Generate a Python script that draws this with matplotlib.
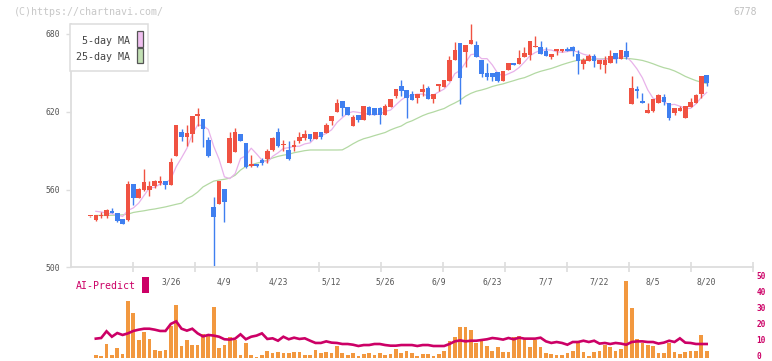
import numpy as np
import matplotlib
matplotlib.use("Agg")
import matplotlib.pyplot as plt
from matplotlib.patches import Rectangle
from matplotlib.transforms import blended_transform_factory, ScaledTranslation

# ---------------- data (bar index -1 .. 114) ----------------
opens = [539.3,
 536.5, 539.6, 539.8, 543.4, 541.9, 537.5, 536.5, 564.0, 553.7, 559.9,
 559.6, 563.0, 565.3, 566.6, 563.5, 586.1, 604.4, 600.8, 603.1, 617.0,
 614.4, 598.2, 546.5, 549.1, 560.4, 580.7, 588.9, 602.8, 595.9, 578.1,
 579.7, 583.0, 583.6, 590.5, 604.6, 594.3, 590.5, 592.8, 597.4, 600.0,
 602.6, 599.0, 604.4, 603.6, 612.9, 619.8, 628.0, 623.7, 609.3, 617.5,
 613.6, 623.7, 623.2, 623.2, 617.8, 623.9, 632.2, 639.9, 636.8, 633.7,
 630.6, 635.2, 638.3, 630.1, 639.9, 639.1, 643.7, 659.9, 673.1, 666.1,
 672.3, 671.5, 660.0, 649.9, 649.9, 650.6, 643.7, 652.2, 657.6, 656.8,
 662.3, 663.8, 670.0, 670.0, 666.9, 662.3, 667.1, 667.1, 668.4, 670.0,
 664.6, 657.1, 659.4, 663.0, 657.1, 656.3, 657.9, 665.3, 661.0, 666.9,
 626.0, 637.6, 628.3, 619.0, 620.6, 626.8, 631.4, 626.8, 619.0, 620.6,
 615.2, 623.7, 626.8, 633.7, 648.4]
highs = [539.6,
 540.3, 542.4, 544.7, 545.7, 541.9, 537.5, 566.6, 564.0, 561.0, 575.8,
 566.6, 567.6, 570.4, 566.6, 584.3, 610.0, 607.0, 609.8, 616.7, 622.9,
 614.4, 600.5, 554.2, 566.6, 560.4, 604.4, 607.7, 602.8, 595.9, 586.6,
 579.7, 584.6, 591.0, 600.5, 607.5, 598.2, 597.4, 598.2, 604.4, 605.9,
 602.6, 604.4, 604.4, 611.6, 616.7, 629.8, 628.0, 623.7, 617.5, 617.5,
 624.4, 624.4, 623.2, 623.9, 626.0, 629.8, 637.6, 644.5, 636.8, 636.0,
 633.7, 641.2, 640.0, 633.7, 641.4, 644.5, 663.0, 673.8, 673.1, 671.5,
 687.7, 674.6, 660.0, 657.6, 649.9, 650.6, 651.4, 657.6, 657.6, 667.6,
 670.0, 674.6, 678.5, 674.6, 670.0, 664.6, 668.4, 668.4, 670.0, 670.8,
 667.6, 661.5, 664.6, 664.6, 660.2, 663.0, 667.9, 665.3, 667.6, 673.8,
 647.6, 639.9, 634.5, 626.8, 629.8, 633.7, 633.7, 626.8, 622.9, 624.4,
 624.4, 630.6, 633.7, 647.6, 648.4]
lows = [539.0,
 536.0, 538.3, 538.3, 541.6, 535.2, 533.6, 536.0, 548.1, 553.7, 558.9,
 555.3, 561.0, 563.5, 560.7, 563.5, 586.1, 597.7, 593.6, 596.4, 609.0,
 593.1, 585.1, 501.2, 549.1, 535.2, 580.7, 588.9, 597.7, 576.3, 577.1,
 577.1, 579.2, 580.7, 590.0, 592.6, 590.0, 582.8, 590.0, 595.6, 598.2,
 597.7, 599.0, 599.2, 603.6, 609.8, 619.8, 617.0, 617.8, 609.3, 612.1,
 613.6, 617.8, 617.5, 610.6, 617.8, 623.9, 630.4, 632.2, 615.4, 629.3,
 627.0, 632.4, 630.1, 626.8, 636.0, 639.1, 643.7, 659.9, 626.0, 654.5,
 672.3, 662.3, 646.8, 644.2, 643.7, 643.0, 643.7, 652.2, 656.1, 656.8,
 662.3, 660.0, 670.0, 664.6, 663.3, 661.0, 664.0, 666.0, 667.1, 663.3,
 649.4, 653.2, 659.4, 654.8, 653.2, 650.2, 657.9, 657.9, 661.0, 661.0,
 626.0, 630.6, 626.8, 619.0, 619.8, 626.8, 625.2, 613.6, 617.5, 620.6,
 615.2, 623.7, 626.8, 630.6, 640.0]
closes = [539.5,
 540.1, 540.6, 543.9, 541.9, 536.0, 533.6, 564.0, 553.7, 560.4, 565.5,
 562.5, 566.3, 566.8, 563.7, 581.2, 609.8, 600.8, 603.6, 616.7, 618.3,
 607.0, 585.9, 539.1, 566.6, 550.6, 600.0, 604.6, 597.7, 577.6, 579.7,
 578.1, 580.5, 589.7, 599.8, 593.6, 594.8, 583.8, 594.3, 600.3, 602.8,
 599.0, 604.4, 600.5, 609.8, 616.7, 627.0, 623.2, 617.8, 615.7, 613.6,
 624.4, 617.8, 617.5, 617.2, 624.4, 629.8, 637.6, 636.3, 630.9, 629.3,
 633.7, 637.6, 630.1, 633.7, 641.4, 644.5, 659.9, 667.6, 646.0, 671.5,
 675.4, 662.3, 649.1, 646.8, 646.8, 643.7, 651.4, 657.6, 656.1, 661.5,
 665.6, 674.6, 670.8, 664.6, 663.3, 664.6, 668.4, 668.4, 667.1, 667.1,
 659.4, 659.9, 663.0, 659.4, 660.2, 659.9, 663.0, 660.7, 667.6, 662.3,
 638.3, 636.0, 626.8, 621.3, 629.8, 632.9, 627.5, 615.2, 622.9, 622.9,
 624.4, 627.5, 632.9, 647.6, 642.2]

nan = float("nan")
ma5 = [nan,
 543.2, 542.7, 541.8, 541.2, 540.5, 539.2, 543.9, 545.8, 549.5, 555.4,
 561.2, 561.7, 564.3, 565.0, 568.1, 577.6, 584.5, 591.8, 602.4, 609.8,
 609.3, 606.3, 593.4, 583.4, 569.8, 568.4, 572.2, 583.9, 586.1, 591.9,
 587.5, 582.7, 581.1, 585.6, 588.3, 591.7, 592.3, 593.3, 593.4, 595.2,
 596.0, 600.2, 601.4, 603.3, 606.1, 611.7, 615.4, 618.9, 620.1, 619.5,
 618.9, 617.9, 617.8, 618.1, 620.3, 621.3, 625.3, 629.1, 631.8, 632.8,
 633.6, 633.6, 632.3, 632.9, 635.3, 637.5, 641.9, 649.4, 651.9, 657.9,
 664.1, 664.6, 660.9, 661.0, 656.1, 649.7, 647.6, 649.3, 651.1, 654.1,
 658.4, 663.1, 665.7, 667.4, 667.8, 667.6, 666.3, 665.9, 666.4, 667.1,
 666.1, 664.4, 663.3, 661.8, 660.4, 660.5, 661.1, 660.6, 662.3, 662.7,
 658.4, 653.0, 646.2, 636.9, 630.4, 629.4, 627.7, 625.3, 625.7, 624.3,
 622.6, 622.6, 626.1, 631.1, 634.9]
ma25 = [nan,
 540.0, 540.0, 540.0, 540.1, 540.2, 540.5, 541.0, 542.3, 543.0, 543.6,
 544.4, 545.0, 545.8, 546.6, 547.6, 548.6, 549.5, 553.0, 555.0, 558.0,
 562.0, 564.3, 566.5, 567.3, 567.9, 568.8, 571.0, 575.0, 577.8, 579.0,
 580.3, 581.3, 582.8, 584.3, 585.6, 586.5, 587.2, 588.4, 589.2, 590.0,
 590.5, 590.5, 590.5, 590.5, 590.5, 590.5, 590.6, 592.8, 595.3, 597.5,
 599.2, 600.3, 601.6, 602.8, 604.0, 606.0, 607.6, 609.0, 611.5, 613.0,
 615.0, 617.0, 618.6, 619.8, 621.2, 622.5, 624.8, 626.8, 629.0, 632.0,
 634.2, 635.8, 636.8, 638.0, 639.5, 640.6, 641.5, 642.8, 644.0, 645.3,
 646.3, 648.0, 649.8, 651.2, 652.3, 653.4, 654.8, 656.3, 657.6, 658.8,
 659.8, 660.2, 660.4, 660.6, 660.7, 660.9, 661.0, 661.2, 661.3, 661.2,
 660.8, 660.3, 659.6, 658.4, 657.0, 655.4, 654.0, 653.0, 651.5, 649.5,
 647.3, 645.6, 644.0, 642.8, 641.8]

volume = [nan,
 2.1, 1.5, 9.0, 2.1, 6.5, 2.7, 35.8, 28.3, 11.5, 16.5,
 12.1, 5.2, 4.6, 5.2, 19.8, 33.3, 7.7, 11.5, 8.3, 8.3,
 15.2, 14.6, 32.1, 6.5, 8.3, 13.3, 11.5, 2.1, 9.6, 2.1,
 0.8, 2.1, 4.6, 3.3, 4.0, 3.3, 3.3, 4.0, 4.0, 2.1,
 2.1, 5.2, 3.3, 4.0, 3.3, 7.7, 3.3, 2.1, 3.3, 1.5,
 2.7, 3.3, 2.1, 3.3, 2.1, 2.7, 5.8, 3.3, 4.6, 3.3,
 1.5, 2.7, 2.7, 1.5, 2.7, 4.6, 10.8, 13.3, 19.6, 19.6,
 17.7, 9.6, 12.1, 7.7, 4.6, 7.1, 4.0, 4.0, 13.3, 14.0,
 12.1, 7.1, 11.5, 7.1, 3.3, 2.7, 2.1, 2.1, 3.3, 4.6,
 9.6, 4.0, 1.5, 4.0, 4.6, 8.3, 7.1, 4.6, 5.8, 48.1,
 31.0, 12.1, 9.6, 8.3, 7.7, 3.3, 3.3, 9.6, 4.0, 2.7,
 4.0, 4.6, 4.6, 14.6, 4.6]
ai_predict = [nan,
 12.1, 12.5, 16.7, 13.3, 15.6, 14.4, 15.4, 16.9, 17.7, 18.3,
 18.3, 17.7, 16.9, 16.9, 21.3, 22.9, 18.3, 17.1, 18.3, 15.4,
 13.5, 14.4, 14.0, 13.3, 11.7, 11.5, 12.1, 14.8, 11.7, 13.3,
 14.0, 15.4, 11.9, 12.3, 10.8, 13.3, 11.7, 12.7, 11.9, 12.3,
 10.8, 9.4, 9.4, 10.4, 9.6, 9.4, 8.75, 8.75, 8.3, 7.5,
 8.1, 8.1, 8.75, 8.75, 8.1, 7.7, 7.7, 8.1, 8.1, 8.1,
 7.5, 8.1, 8.1, 7.5, 7.5, 7.5, 8.75, 10.4, 11.0, 10.4,
 10.8, 10.8, 11.25, 11.7, 12.5, 12.1, 11.5, 12.5, 11.7, 12.7,
 12.1, 12.1, 12.1, 12.7, 10.4, 9.4, 10.0, 9.4, 8.3, 10.0,
 10.0, 10.8, 10.0, 10.8, 9.0, 9.4, 8.75, 9.4, 9.0, 8.3,
 10.0, 10.4, 10.4, 10.0, 10.0, 9.0, 9.6, 10.8, 10.0, 12.3,
 9.6, 9.4, 8.75, 8.75, 8.75]

date_labels = ["3/26", "4/9", "4/23", "5/12", "5/26", "6/9",
               "6/23", "7/7", "7/22", "8/5", "8/20"]
date_label_bar = [14, 24, 34, 44, 54, 64, 74, 84, 94, 104, 114]
price_ticks = [500, 560, 620, 680]
vol_ticks = [0, 10, 20, 30, 40, 50]

# ---------------- styling ----------------
W, H = 772, 361
RED = "#f05242"
BLUE = "#3f7ff0"
PINK = "#e8b2ea"
GREEN = "#b3d9a3"
ORANGE = "#f2983f"
MAGENTA = "#cc0066"
GRID = "#dddddd"
TXT = "#555555"
MONO = "DejaVu Sans Mono"

fig = plt.figure(figsize=(W / 100, H / 100), dpi=100)
fig.patch.set_facecolor("white")

def fx(px):
    return px / W

def fy(py):
    return 1 - py / H

L, R = 71, 752.5
ax = fig.add_axes([fx(L), fy(267.3), fx(R) - fx(L), fy(24) - fy(267.3)])
axv = fig.add_axes([fx(L), fy(358), fx(R) - fx(L), fy(278) - fy(358)])

n = len(opens)
xs = np.arange(n) - 1  # bar positions (first bar is index -1)
o = np.array(opens); h = np.array(highs); lo = np.array(lows); c = np.array(closes)
up = c >= o
cols = np.where(up, RED, BLUE)

xmin, xmax = -4.63, 122.55

# MA lines
ax.plot(xs, ma25, color=GREEN, lw=0.9, zorder=1)
ax.plot(xs, ma5, color=PINK, lw=0.9, zorder=1)

# wicks
ax.vlines(xs, lo, h, colors=cols, lw=1.0, zorder=2)
# bodies
body_bottom = np.minimum(o, c)
body_h = np.maximum(np.abs(c - o), 0.8)
ax.bar(xs, body_h, bottom=body_bottom, width=0.86, color=cols, lw=0, zorder=3)

ax.set_xlim(xmin, xmax)
ax.set_ylim(500, 687.7)
ax.set_yticks(price_ticks)
ax.set_yticklabels([str(v) for v in price_ticks], fontfamily=MONO, fontsize=5.8, color=TXT)
ax.set_xticks(np.linspace(xmin, xmax, 12)[1:])
ax.set_xticklabels([])
ax.tick_params(axis="y", direction="out", length=3.6, width=1.0, color=GRID, pad=4)
ax.tick_params(axis="x", direction="inout", length=7, width=1.2, color=GRID)
for s in ("top", "right"):
    ax.spines[s].set_visible(False)
for s in ("left", "bottom"):
    ax.spines[s].set_color(GRID)
    ax.spines[s].set_linewidth(1.3)
ax.set_facecolor("none")

tr = blended_transform_factory(ax.transData, ax.transAxes)
for lab, b in zip(date_labels, date_label_bar):
    ax.text(b, -0.062, lab, transform=tr, ha="center", va="center",
            fontfamily=MONO, fontsize=5.8, color=TXT)

# volume panel
vol = np.array(volume)
axv.bar(xs, vol, width=0.69, color=ORANGE, lw=0, zorder=1)
axv.plot(xs, ai_predict, color=MAGENTA, lw=1.9, zorder=2, solid_joinstyle="miter")
axv.set_xlim(xmin, xmax)
axv.set_ylim(0, 50)
for s in axv.spines.values():
    s.set_visible(False)
axv.set_xticks([])
axv.set_yticks([])
axv.set_facecolor("none")

# right-hand volume scale labels (nudged up slightly so the "0" stays inside)
trv = blended_transform_factory(axv.transAxes, axv.transData)
nudge = ScaledTranslation(4 / 100, 1.6 / 100, fig.dpi_scale_trans)
for v in vol_ticks:
    axv.text(1.0, v, str(v), transform=trv + nudge, ha="left", va="center",
             fontfamily=MONO, fontsize=5.6, color=MAGENTA, fontweight="bold",
             clip_on=False)

# AI-Predict label
fig.text(fx(75.5), fy(286), "AI-Predict", ha="left", va="center",
         fontfamily=MONO, fontsize=7.1, color=MAGENTA)
fig.patches.append(Rectangle((fx(142), fy(292.7)), fx(6.7), fy(276.7) - fy(292.7),
                             transform=fig.transFigure, facecolor=MAGENTA, lw=0, zorder=5))

# legend box
fig.patches.append(Rectangle((fx(70.3), fy(71)), fx(148.3) - fx(70.3), fy(24) - fy(71),
                             transform=fig.transFigure, facecolor="white",
                             edgecolor=GRID, lw=1.1, zorder=5))
fig.text(fx(129.5), fy(40.7), "5-day MA", ha="right", va="center",
         fontfamily=MONO, fontsize=7.2, color="#444444", zorder=6)
fig.text(fx(129.5), fy(56.7), "25-day MA", ha="right", va="center",
         fontfamily=MONO, fontsize=7.2, color="#444444", zorder=6)
fig.patches.append(Rectangle((fx(136.5), fy(46.5)), fx(6), fy(31.3) - fy(46.5),
                             transform=fig.transFigure, facecolor="#f0c0f0",
                             edgecolor="#555555", lw=0.9, zorder=6))
fig.patches.append(Rectangle((fx(136.5), fy(63.2)), fx(6), fy(48.3) - fy(63.2),
                             transform=fig.transFigure, facecolor="#c2e0b4",
                             edgecolor="#555555", lw=0.9, zorder=6))

# watermark texts
fig.text(fx(14), fy(12.3), "(C)https://chartnavi.com/", ha="left", va="center",
         fontfamily=MONO, fontsize=7.2, color="#c8c8c8")
fig.text(fx(757), fy(12.3), "6778", ha="right", va="center",
         fontfamily=MONO, fontsize=7.0, color="#c0c0c0")

fig.savefig("out.png", dpi=100, facecolor="white")
